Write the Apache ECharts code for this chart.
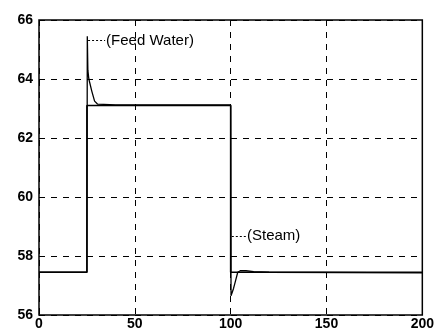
<!DOCTYPE html>
<html><head><meta charset="utf-8">
<script src="https://cdn.jsdelivr.net/npm/echarts@6/dist/echarts.min.js"></script>
<style>html,body{margin:0;padding:0;background:#fff;}#c{width:437px;height:331px;}</style>
</head><body><div id="c"></div>
<script>
var xTicks = [0, 50, 100, 150, 200];
var yTicks = [56, 58, 60, 62, 64, 66];
var stepT = [0, 25, 25, 100, 100, 200];
var stepV = [57.45, 57.45, 63.1, 63.1, 57.45, 57.45];
var respT = [0, 25, 25.2, 25.5, 26, 27.5, 29, 30.5, 40, 100, 100.2, 100.6, 101.5, 102.5, 103.7, 105, 108, 112, 120, 200];
var respV = [57.45, 57.45, 65.45, 64.3, 64.0, 63.6, 63.25, 63.15, 63.12, 63.12, 56.65, 56.7, 56.9, 57.15, 57.45, 57.5, 57.5, 57.47, 57.45, 57.43];
var labelFeed = '(Feed Water)';
var labelSteam = '(Steam)';

var chart = echarts.init(document.getElementById('c'), null, {renderer: 'canvas'});
function pairs(a, b) { return a.map(function (v, i) { return [v, b[i]]; }); }
var fontFam = '"Liberation Sans", Arial, sans-serif';
chart.setOption({
  animation: false,
  grid: {left: 39, right: 13, top: 20, bottom: 16, show: true, borderColor: '#000', borderWidth: 1.5, backgroundColor: 'transparent'},
  xAxis: {
    type: 'value', min: 0, max: 200, interval: 50,
    axisLine: {show: false}, axisTick: {show: false},
    axisLabel: {color: '#000', fontWeight: 'bold', fontSize: 14, fontFamily: fontFam, margin: 2},
    splitLine: {show: true, lineStyle: {color: '#000', type: [6, 6], width: 1}}
  },
  yAxis: {
    type: 'value', min: 56, max: 66, interval: 2,
    axisLine: {show: false}, axisTick: {show: false},
    axisLabel: {color: '#000', fontWeight: 'bold', fontSize: 14, fontFamily: fontFam, margin: 6},
    splitLine: {show: true, lineStyle: {color: '#000', type: [6, 6], width: 1}}
  },
  series: [
    {type: 'line', data: pairs(stepT, stepV), symbol: 'none', lineStyle: {color: '#000', width: 1.6}},
    {type: 'line', data: pairs(respT, respV), symbol: 'none', lineStyle: {color: '#000', width: 1.3},
     markLine: {
       symbol: 'none', silent: true,
       lineStyle: {color: '#000', type: [2, 2], width: 1},
       label: {show: true, position: 'end', color: '#000', fontSize: 15, fontFamily: fontFam, distance: 1},
       data: [
         [{coord: [25.6, 65.3], label: {formatter: labelFeed}}, {coord: [34.5, 65.3]}],
         [{coord: [100.6, 58.68], label: {formatter: labelSteam}}, {coord: [108, 58.68]}]
       ]
     }}
  ]
});
</script></body></html>
